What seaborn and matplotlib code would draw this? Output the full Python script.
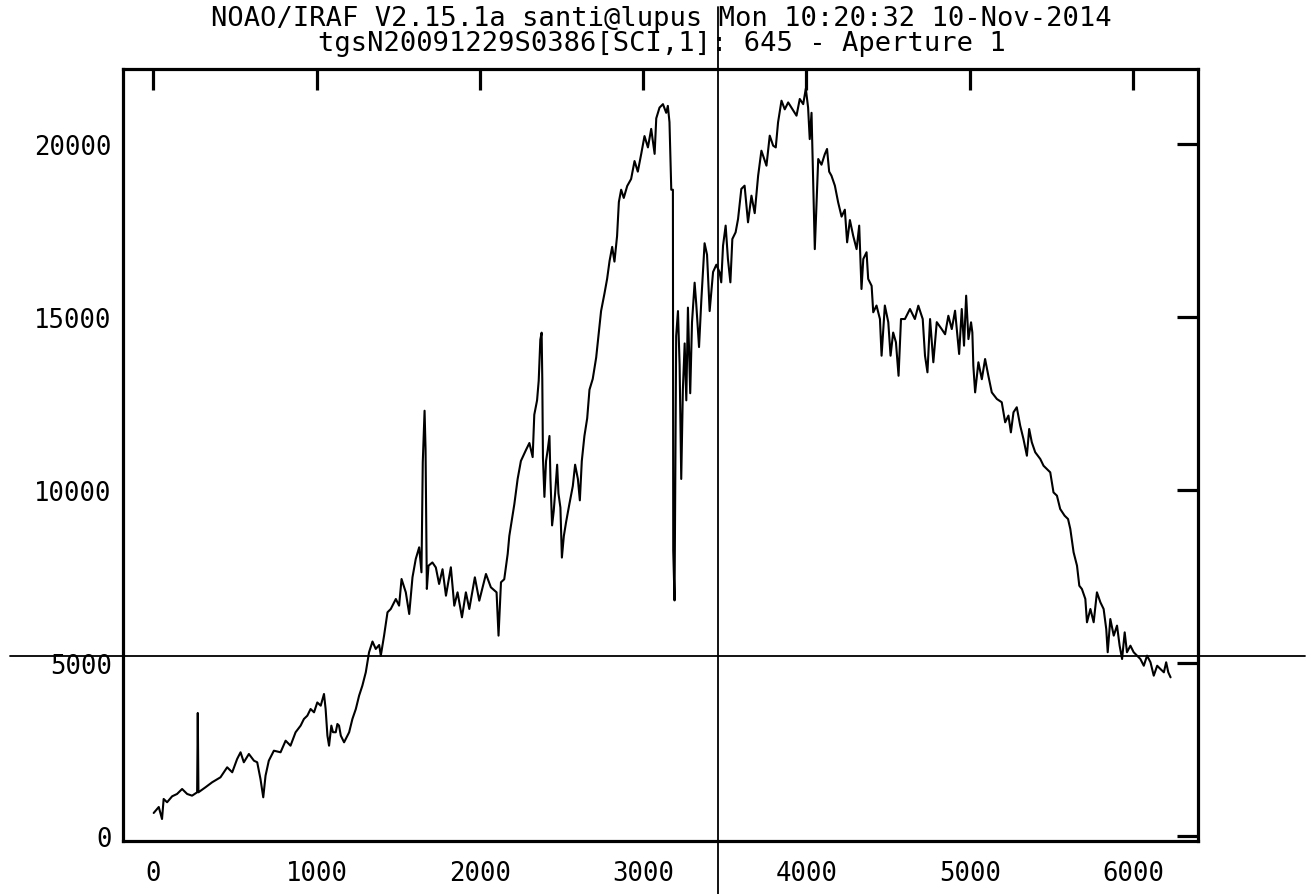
import matplotlib
matplotlib.use("Agg")
import matplotlib.pyplot as plt
import seaborn as sns
import pandas as pd

# ---- data (pixel, flux) ----
pixel = [2, 33, 53, 63, 84, 115, 145, 176, 207, 237, 268, 272, 276, 319, 360, 411, 452, 483, 513, 534,
         554, 585, 616, 636, 656, 673, 687, 707, 738, 779, 810, 840, 871, 902, 922, 943, 963, 984, 1004, 1025,
         1045, 1055, 1066, 1076, 1090, 1100, 1117, 1127, 1137, 1148, 1168, 1199, 1219, 1240, 1260, 1280, 1301, 1321, 1342, 1362,
         1383, 1393, 1413, 1434, 1454, 1485, 1505, 1520, 1546, 1567, 1587, 1607, 1628, 1642, 1650, 1661, 1667, 1675, 1685, 1709,
         1730, 1750, 1771, 1792, 1822, 1843, 1863, 1890, 1914, 1935, 1969, 1996, 2037, 2067, 2102, 2114, 2129, 2149, 2170, 2180,
         2211, 2231, 2251, 2282, 2303, 2323, 2333, 2350, 2360, 2370, 2378, 2382, 2386, 2395, 2405, 2415, 2426, 2432, 2442, 2452,
         2462, 2473, 2481, 2493, 2502, 2514, 2528, 2548, 2569, 2583, 2600, 2612, 2624, 2640, 2657, 2671, 2691, 2712, 2728, 2742,
         2763, 2779, 2794, 2810, 2824, 2840, 2851, 2865, 2881, 2902, 2926, 2947, 2967, 2988, 3008, 3029, 3049, 3070, 3080, 3100,
         3121, 3141, 3151, 3161, 3172, 3182, 3184, 3192, 3202, 3213, 3223, 3233, 3243, 3254, 3264, 3274, 3288, 3299, 3315, 3325,
         3342, 3356, 3376, 3391, 3407, 3428, 3448, 3468, 3478, 3489, 3505, 3519, 3534, 3546, 3566, 3581, 3601, 3621, 3642, 3663,
         3683, 3704, 3724, 3755, 3775, 3796, 3812, 3826, 3847, 3867, 3888, 3908, 3939, 3959, 3980, 3996, 4010, 4020, 4031, 4041,
         4051, 4061, 4072, 4092, 4112, 4126, 4139, 4153, 4174, 4194, 4215, 4235, 4249, 4266, 4286, 4307, 4323, 4337, 4348, 4368,
         4378, 4399, 4409, 4429, 4450, 4460, 4480, 4501, 4515, 4531, 4548, 4564, 4579, 4603, 4634, 4664, 4685, 4712, 4726, 4741,
         4757, 4777, 4798, 4828, 4849, 4869, 4890, 4910, 4935, 4951, 4965, 4978, 4992, 5008, 5016, 5022, 5033, 5053, 5074, 5094,
         5114, 5135, 5166, 5196, 5217, 5237, 5252, 5268, 5288, 5309, 5329, 5350, 5364, 5380, 5401, 5432, 5452, 5493, 5513, 5534,
         5554, 5581, 5602, 5616, 5636, 5657, 5671, 5687, 5708, 5718, 5739, 5759, 5779, 5800, 5820, 5836, 5845, 5861, 5882, 5902,
         5918, 5933, 5949, 5963, 5984, 6004, 6025, 6045, 6066, 6086, 6107, 6127, 6148, 6168, 6189, 6203, 6216, 6230]

flux = [665, 838, 490, 1070, 975, 1147, 1214, 1358, 1214, 1165, 1262, 3555, 1262, 1407, 1552, 1696, 1985, 1841, 2225, 2419,
        2130, 2370, 2176, 2130, 1647, 1118, 1743, 2176, 2465, 2419, 2754, 2610, 2997, 3190, 3381, 3477, 3670, 3574, 3859, 3766,
        4104, 3670, 2899, 2610, 3190, 3000, 2997, 3237, 3190, 2900, 2707, 2997, 3381, 3670, 4055, 4344, 4731, 5309, 5620, 5405,
        5520, 5212, 5790, 6465, 6560, 6849, 6657, 7427, 7042, 6416, 7476, 8005, 8343, 7620, 10800, 12290, 11180, 7140, 7810, 7905,
        7760, 7283, 7710, 6945, 7765, 6656, 7042, 6320, 7042, 6560, 7476, 6800, 7572, 7187, 7042, 5790, 7332, 7420, 8150, 8670,
        9595, 10318, 10838, 11155, 11357, 10950, 12175, 12590, 13155, 14343, 14546, 13210, 10936, 9800, 10838, 11150, 11560, 10318, 8976, 9390,
        10000, 10730, 9900, 9490, 8046, 8670, 9078, 9595, 10115, 10730, 10318, 9700, 10838, 11560, 12071, 12897, 13210, 13826, 14546, 15170,
        15682, 16100, 16618, 17025, 16600, 17338, 18322, 18677, 18440, 18784, 18987, 19506, 19200, 19713, 20228, 19900, 20435, 19713, 20740, 21050,
        21150, 20900, 21100, 20630, 18677, 18677, 8250, 6808, 14450, 15170, 13620, 10318, 12897, 14235, 12590, 15270, 12795, 14850, 15990, 15370,
        14130, 15476, 17130, 16800, 15170, 16300, 16510, 16290, 16000, 17060, 17640, 16675, 16000, 17253, 17446, 17831, 18700, 18794, 17735, 18505,
        18000, 19083, 19805, 19372, 20240, 19950, 19900, 20625, 21250, 21000, 21200, 21050, 20817, 21300, 21150, 21600, 21050, 20140, 20900, 18990,
        16960, 18215, 19565, 19400, 19700, 19855, 19200, 19083, 18794, 18313, 17900, 18100, 17157, 17800, 17350, 16960, 17640, 15808, 16675, 16870,
        16100, 15900, 15135, 15330, 14940, 13880, 15330, 14850, 13880, 14550, 14267, 13300, 14940, 14940, 15230, 14940, 15326, 14940, 13880, 13400,
        14940, 13690, 14850, 14650, 14500, 15035, 14650, 15180, 13930, 15230, 14170, 15615, 14360, 14845, 14550, 13590, 12820, 13690, 13200, 13785,
        13300, 12820, 12630, 12535, 11955, 12150, 11665, 12245, 12390, 11860, 11473, 10990, 11762, 11380, 11090, 10895, 10700, 10510, 9930, 9835,
        9450, 9257, 9160, 8872, 8200, 7810, 7233, 7137, 6850, 6176, 6560, 6176, 7042, 6755, 6560, 5982, 5310, 6270, 5790, 6080,
        5500, 5115, 5885, 5310, 5500, 5310, 5212, 5115, 4920, 5212, 5020, 4633, 4920, 4825, 4730, 5020, 4730, 4585]

x_ticks = [0, 1000, 2000, 3000, 4000, 5000, 6000]
y_ticks = [0, 5000, 10000, 15000, 20000]
title_lines = ["NOAO/IRAF V2.15.1a santi@lupus Mon 10:20:32 10-Nov-2014",
               "tgsN20091229S0386[SCI,1]: 645 - Aperture 1"]
cursor_x = 3460
cursor_y = 5210

# ---- styling ----
sns.set_style("white")
plt.rcParams["font.family"] = ["DejaVu Sans Mono", "DejaVu Sans"]
plt.rcParams["text.color"] = "black"
plt.rcParams["xtick.color"] = "black"
plt.rcParams["ytick.color"] = "black"

df = pd.DataFrame({"pixel": pixel, "flux": flux})

fig = plt.figure(figsize=(13.15, 8.95), dpi=100)
ax = fig.add_axes([123 / 1315, 53 / 895, 1075 / 1315, 772 / 895])

sns.lineplot(data=df, x="pixel", y="flux", color="black", linewidth=1.5,
             estimator=None, sort=False, ax=ax)

ax.set_xlim(-186, 6398)
ax.set_ylim(-145, 22166)
ax.set_xticks(x_ticks)
ax.set_yticks(y_ticks)
ax.set_xticklabels([str(t) for t in x_ticks])
ax.set_yticklabels([str(t) for t in y_ticks])
ax.set_xlabel("")
ax.set_ylabel("")

for sp in ax.spines.values():
    sp.set_visible(True)
    sp.set_linewidth(2.3)
    sp.set_color("black")

ax.tick_params(axis="both", which="major", direction="in", length=15, width=2.3,
               top=True, right=True, labelsize=18.5, colors="black",
               labelcolor="black")
ax.tick_params(axis="x", pad=14)
ax.tick_params(axis="y", pad=8)

# cursor crosshair (extends beyond the frame as in IRAF)
ax.axhline(cursor_y, xmin=-0.105, xmax=1.0995, clip_on=False, color="black", linewidth=1.3)
ax.axvline(cursor_x, ymin=-0.07, ymax=1.080, clip_on=False, color="black", linewidth=1.3)

# two-line IRAF header as one multi-line text
fig.text(0.503, 1 - 6 / 895, "\n".join(title_lines), ha="center", va="top",
         multialignment="center", fontsize=19.5, linespacing=0.95, color="black")

fig.savefig("out.png", dpi=100, facecolor="white")
